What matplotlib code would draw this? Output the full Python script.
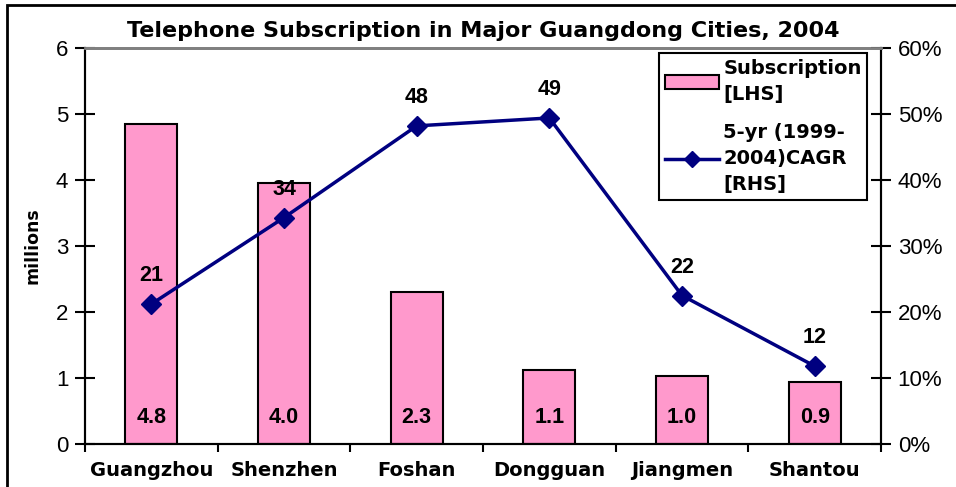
import matplotlib.pyplot as plt
from matplotlib.patches import Rectangle
from matplotlib.lines import Line2D

plt.rcParams['font.family'] = ['Liberation Sans', 'DejaVu Sans']

cities = ['Guangzhou', 'Shenzhen', 'Foshan', 'Dongguan', 'Jiangmen', 'Shantou']
subscription = [4.85, 3.95, 2.3, 1.12, 1.03, 0.94]
subscription_labels = ['4.8', '4.0', '2.3', '1.1', '1.0', '0.9']
cagr = [21.2, 34.3, 48.2, 49.4, 22.5, 11.8]
cagr_labels = ['21', '34', '48', '49', '22', '12']

arial = 'Liberation Sans'
wide = 'DejaVu Sans'  # wider bold face, closer to the stretched Arial of the original

fig = plt.figure(figsize=(9.56, 4.87), dpi=100)
ax = fig.add_axes([85 / 956, 43 / 487, 796 / 956, 396 / 487])
ax2 = ax.twinx()

x = list(range(len(cities)))
ax.bar(x, subscription, width=0.39, color='#ff99cc', edgecolor='black', linewidth=1.5, zorder=2)
for xi, lab in zip(x, subscription_labels):
    ax.text(xi, 0.4, lab, ha='center', va='center', fontsize=15.5, fontweight='bold', family=arial)

ax.set_xlim(-0.5, len(cities) - 0.5)
ax.set_ylim(0, 6)
ax.set_yticks(range(7))
ax.set_yticklabels([str(t) for t in range(7)], family=arial, fontsize=16)
ax.set_xticks([i - 0.5 for i in range(len(cities) + 1)])
ax.set_xticklabels([])
ax.set_xticks(x, minor=True)
ax.set_xticklabels(cities, minor=True, fontsize=14, fontweight='bold', family=wide)
ax.tick_params(axis='x', which='major', length=6, width=1.5, direction='out')
ax.tick_params(axis='x', which='minor', length=0, pad=12)
ax.tick_params(axis='y', length=14, width=1.5, direction='inout', pad=5)
ax.set_ylabel('millions', fontsize=12.5, fontweight='bold', family=wide, labelpad=10)

ax2.plot(x, cagr, color='#000080', linewidth=2.5, marker='D', markersize=10, zorder=3)
for xi, v, lab in zip(x, cagr, cagr_labels):
    ax2.text(xi, v + 4.3, lab, ha='center', va='center', fontsize=15.5, fontweight='bold', family=arial)
ax2.set_ylim(0, 60)
ax2.set_yticks(range(0, 61, 10))
ax2.set_yticklabels([f'{t}%' for t in range(0, 61, 10)], family=arial, fontsize=16)
ax2.tick_params(axis='y', length=14, width=1.5, direction='inout', pad=5)

for a in (ax, ax2):
    a.spines['top'].set_color('gray')
    a.spines['top'].set_linewidth(2)
    a.spines['left'].set_linewidth(1.5)
    a.spines['right'].set_linewidth(1.5)
    a.spines['bottom'].set_linewidth(1.5)

ax.set_title('Telephone Subscription in Major Guangdong Cities, 2004',
             fontsize=16, fontweight='bold', family=wide, pad=8)

handles = [
    Rectangle((0, 0), 1, 1, facecolor='#ff99cc', edgecolor='black', linewidth=1.5),
    Line2D([], [], color='#000080', linewidth=2.5, marker='D', markersize=8),
]
leg = ax2.legend(handles, ['Subscription\n[LHS]', '5-yr (1999-\n2004)CAGR\n[RHS]'],
                 loc='upper right', bbox_to_anchor=(0.983, 0.987), fancybox=False,
                 edgecolor='black', framealpha=1,
                 prop={'size': 14, 'weight': 'bold', 'family': wide},
                 handlelength=2.8, borderpad=0.3, labelspacing=1.0, handletextpad=0.2,
                 borderaxespad=0)
for t in leg.get_texts():
    t.set_linespacing(1.45)
leg.get_frame().set_linewidth(1.5)

fig.patches.append(Rectangle((7 / 956, -0.1), 1.2, 1 - 5 / 487 + 0.1,
                             transform=fig.transFigure, fill=False,
                             edgecolor='black', linewidth=2))

fig.savefig('out.png', dpi=100)
